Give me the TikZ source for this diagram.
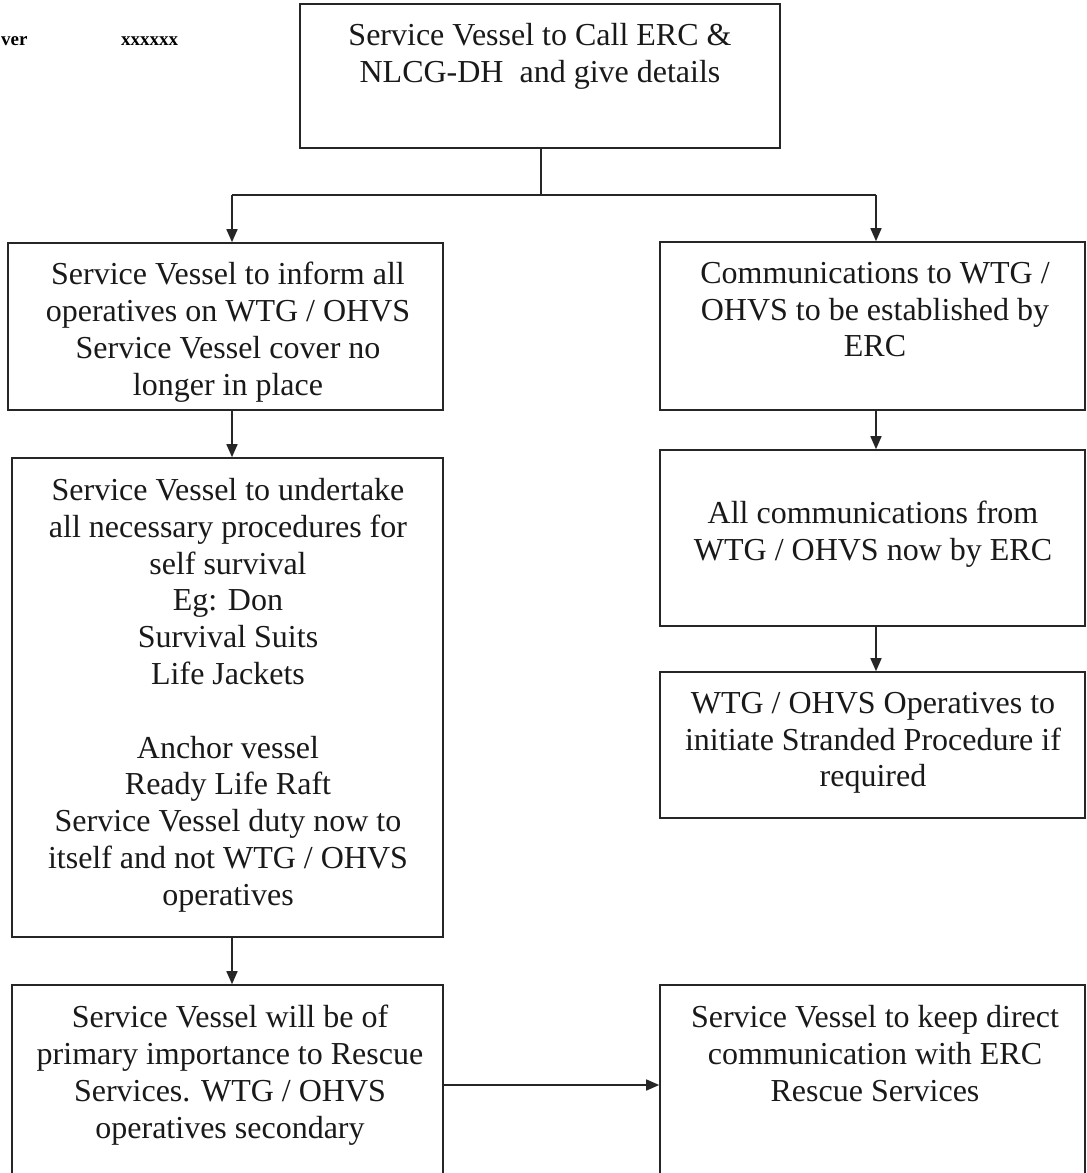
\documentclass[tikz,border=0pt]{standalone}
\usepackage{fontspec}
\setmainfont{Liberation Serif}
\usetikzlibrary{arrows.meta}
\begin{document}
\begin{tikzpicture}[x=1pt,y=-1pt,
  box/.style={draw=black!85, line width=1.6pt, inner sep=0pt, rectangle},
  txt/.style={anchor=north, align=center, inner sep=0pt, font=\fontsize{32}{36.8}\selectfont, text=black!90},
  arr/.style={draw=black!85, line width=1.6pt, -{Triangle[length=13pt,width=11pt]}},
  ln/.style={draw=black!85, line width=1.6pt}]
\useasboundingbox (0,0) rectangle (1087,1173);
\clip (0,0) rectangle (1087,1173);
% header text
\node[anchor=base west, inner sep=0pt, font=\fontsize{19}{24}\selectfont\bfseries] (hdrA) at (1,45) {ver};
\node[anchor=base west, inner sep=0pt, font=\fontsize{19}{24}\selectfont\bfseries] (hdrB) at (121,45) {xxxxxx};
% boxes
\node[box, minimum width=480pt, minimum height=144pt] (top) at (540,76) {};
\node[box, minimum width=435pt, minimum height=167pt] (L1) at (225.5,326.5) {};
\node[box, minimum width=431pt, minimum height=479pt] (L2) at (227.5,697.5) {};
\node[box, minimum width=431pt, minimum height=230pt] (L3) at (227.5,1100) {};
\node[box, minimum width=425pt, minimum height=168pt] (R1) at (872.5,326) {};
\node[box, minimum width=425pt, minimum height=176pt] (R2) at (872.5,538) {};
\node[box, minimum width=425pt, minimum height=146pt] (R3) at (872.5,745) {};
\node[box, minimum width=425pt, minimum height=230pt] (R4) at (872.5,1100) {};
% texts
\node[txt] (tTop) at (540,23) {Service Vessel to Call ERC \&\\NLCG-DH\ \ and give details};
\node[txt] (tL1) at (228,262) {Service Vessel to inform all\\operatives on WTG / OHVS\\Service Vessel cover no\\longer in place};
\node[txt] (tL2) at (228,478) {Service Vessel to undertake\\all necessary procedures for\\self survival\\Eg: Don\\Survival Suits\\Life Jackets\\[36.8pt]Anchor vessel\\Ready Life Raft\\Service Vessel duty now to\\itself and not WTG / OHVS\\operatives};
\node[txt] (tL3) at (230,1005) {Service Vessel will be of\\primary importance to Rescue\\Services. WTG / OHVS\\operatives secondary};
\node[txt] (tR1) at (875,262) {Communications to WTG /\\OHVS to be established by\\ERC};
\node[txt] (tR2) at (873,501) {All communications from\\WTG / OHVS now by ERC};
\node[txt] (tR3) at (873,692) {WTG / OHVS Operatives to\\initiate Stranded Procedure if\\required};
\node[txt] (tR4) at (875,1005) {Service Vessel to keep direct\\communication with ERC\\Rescue Services};
% connectors
\coordinate (split) at (541,195);
\coordinate (jl) at (232,195);
\coordinate (jr) at (876,195);
\coordinate (hz) at (443,1085);
\draw[ln] (top.south -| split) -- (split);
\draw[ln] (jl) -- (jr);
\draw[arr] (jl) -- (jl |- L1.north);
\draw[arr] (jr) -- (jr |- R1.north);
\draw[arr] (jl |- L1.south) -- (jl |- L2.north);
\draw[arr] (jl |- L2.south) -- (jl |- L3.north);
\draw[arr] (jr |- R1.south) -- (jr |- R2.north);
\draw[arr] (jr |- R2.south) -- (jr |- R3.north);
\draw[arr] (L3.east |- hz) -- (R4.west |- hz);
\end{tikzpicture}
\end{document}
